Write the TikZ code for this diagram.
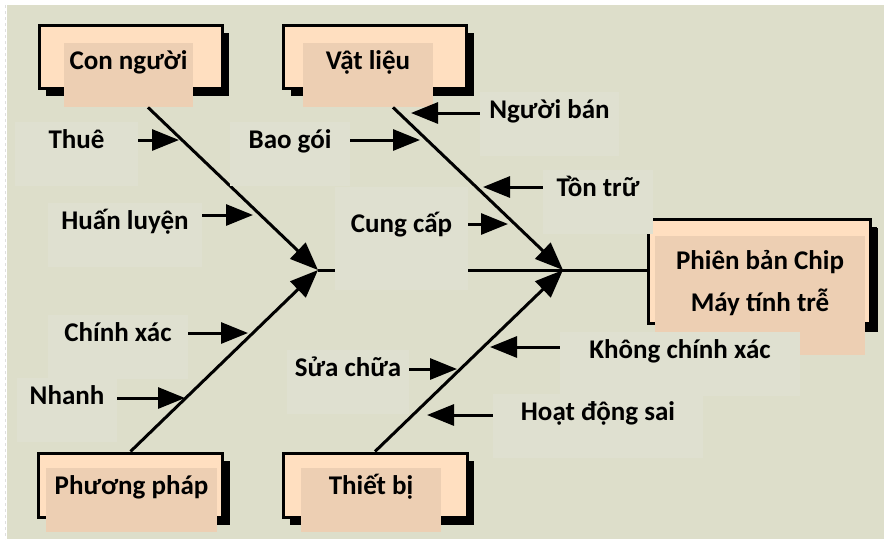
\documentclass[tikz,border=0pt]{standalone}
\usepackage{fontspec}
\setmainfont{Carlito}
\usetikzlibrary{arrows.meta,shadows}

\definecolor{bgolive}{RGB}{221,222,202}
\definecolor{patchbg}{RGB}{223,224,208}
\definecolor{peach}{RGB}{255,223,192}
\definecolor{peachdark}{RGB}{237,207,179}

\begin{document}
\begin{tikzpicture}[
    x=1pt, y=-1pt,
    frame/.style={rectangle, draw=black, line width=3pt, fill=peach, inner sep=0pt,
        drop shadow={opacity=1, fill=black, shadow xshift=7pt, shadow yshift=-8pt}},
    lbl/.style={rectangle, anchor=north, inner xsep=0pt, inner ysep=8pt,
        text height=18pt, text depth=30pt, font=\bfseries\fontsize{27}{33}\selectfont},
    head/.style={lbl, fill=peachdark},
    cause/.style={lbl, fill=patchbg},
    bone/.style={line width=3pt, -{Triangle[length=28pt, width=22pt]}},
    arrow/.style={line width=3pt, -{Triangle[length=27pt, width=21pt]}}
]
\useasboundingbox (0,0) rectangle (884,539);
\fill[white] (0,0) rectangle (884,539);
\fill[bgolive] (7,5) rectangle (884,539);
\draw[black!12, line width=1pt, dash pattern=on 3pt off 3pt] (5,5) -- (5,539);

% Category frames
\node[frame, minimum width=183pt, minimum height=63pt] (people) at (130.5,56.5) {};
\node[frame, minimum width=183pt, minimum height=63pt] (material) at (375,56.5) {};
\node[frame, minimum width=184pt, minimum height=64pt] (method) at (130.5,485) {};
\node[frame, minimum width=184pt, minimum height=64pt] (equip) at (375,485) {};
\node[frame, minimum width=222pt, minimum height=104pt, drop shadow={opacity=1, fill=black, shadow xshift=8pt, shadow yshift=-9pt}] (effect) at (759,271) {};

% Category titles
\node[head, minimum width=129pt] (peopleL) at (128.5,43) {Con người};
\node[head, minimum width=130pt] (materialL) at (368,43) {Vật liệu};
\node[head, minimum width=171pt] (methodL) at (131.5,468) {Phương pháp};
\node[head, minimum width=140pt] (equipL) at (371,468) {Thiết bị};
\node[head, minimum width=210pt, align=center, text height=67pt, text depth=36pt,
    font=\bfseries\fontsize{27}{42}\selectfont] (effectL) at (760,236) {Phiên bản Chip\\Máy tính trễ};

% Bones
\coordinate (jL) at (318,270);
\coordinate (jR) at (563,270);
\draw[line width=3pt] (jL) -- (jL -| effect.west);
\draw[bone] ([xshift=19.5pt]peopleL.south) -- (jL);
\draw[bone] (method.north) -- (jL);
\draw[bone] ([xshift=25pt]materialL.south) -- (jR);
\draw[bone] (equip.north) -- (jR);

% Causes
\node[cause, minimum width=123pt] (thue) at (76.5,122) {Thuê};
\node[cause, minimum width=154pt] (huan) at (125,203) {Huấn luyện};
\node[cause, minimum width=120pt] (baogoi) at (290,122) {Bao gói};
\node[cause, minimum width=139pt] (nguoiban) at (549.5,92) {Người bán};
\node[cause, minimum width=110pt] (tontru) at (598,170) {Tồn trữ};
\node[cause, minimum width=133pt, text height=37pt, text depth=50pt] (cungcap) at (401.5,187) {Cung cấp};
\node[cause, minimum width=140pt] (chinhxac) at (118,315) {Chính xác};
\node[cause, minimum width=100pt] (nhanh) at (67,378) {Nhanh};
\node[cause, minimum width=122pt] (suachua) at (348,350) {Sửa chữa};
\node[cause, minimum width=240pt] (khong) at (680,332) {Không chính xác};
\node[cause, minimum width=210pt] (hoatdong) at (598,394) {Hoạt động sai};

% Arrow tips
\coordinate (tThue) at (179,140);
\coordinate (tHuan) at (253,215);
\coordinate (tBaogoi) at (420,140);
\coordinate (tNguoiban) at (411,113);
\coordinate (tTontru) at (483,187);
\coordinate (tCungcap) at (508,224);
\coordinate (tChinhxac) at (248,333);
\coordinate (tNhanh) at (185,398);
\coordinate (tSuachua) at (457,369);
\coordinate (tKhong) at (490,347);
\coordinate (tHoatdong) at (427,415);

\draw[arrow] (thue.east |- tThue) -- (tThue);
\draw[arrow] (huan.east |- tHuan) -- (tHuan);
\draw[arrow] (baogoi.east |- tBaogoi) -- (tBaogoi);
\draw[arrow] (nguoiban.west |- tNguoiban) -- (tNguoiban);
\draw[arrow] (tontru.west |- tTontru) -- (tTontru);
\draw[arrow] (cungcap.east |- tCungcap) -- (tCungcap);
\draw[arrow] (chinhxac.east |- tChinhxac) -- (tChinhxac);
\draw[arrow] (nhanh.east |- tNhanh) -- (tNhanh);
\draw[arrow] (suachua.east |- tSuachua) -- (tSuachua);
\draw[arrow] (khong.west |- tKhong) -- (tKhong);
\draw[arrow] (hoatdong.west |- tHoatdong) -- (tHoatdong);
\end{tikzpicture}
\end{document}
